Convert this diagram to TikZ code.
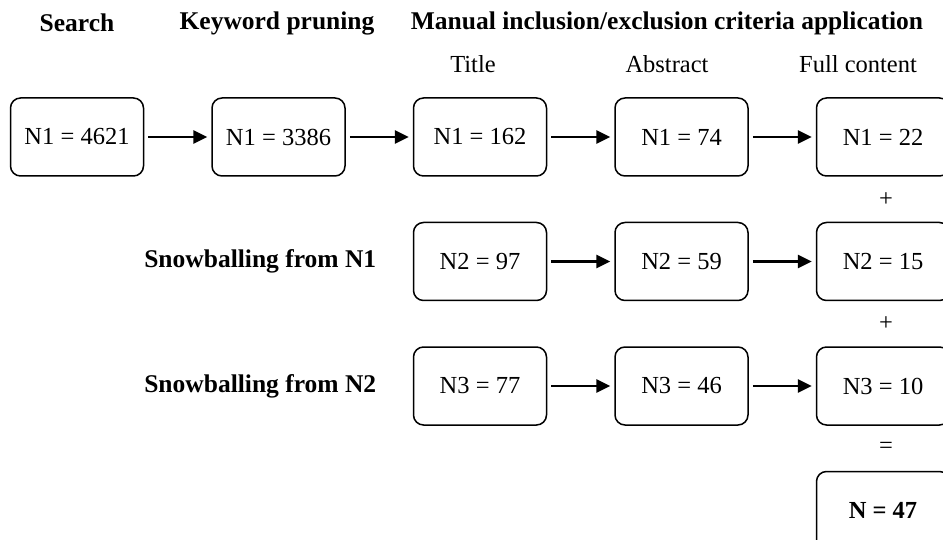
\documentclass[tikz,border=0pt]{standalone}
\usepackage{fontspec}
\setmainfont{Liberation Serif}
\usetikzlibrary{positioning, arrows.meta, calc}
\tikzset{
	node distance=45pt and 67pt, % vertical and horizontal gap between the boxes
	box/.style={draw, line width=1.5pt, rounded corners=10pt, minimum width=133pt, minimum height=78pt, font=\fontsize{24.5}{28}\selectfont}, % the count boxes
	head/.style={font=\fontsize{25.5}{30}\selectfont\bfseries}, % bold headers
	sub/.style={font=\fontsize{24.5}{29}\selectfont}, % the three sub headers
	flow/.style={-{Triangle[length=14pt,width=13pt]}, line width=2.8pt, shorten <=4pt, shorten >=4pt}, % arrows between the boxes
}
\begin{document}
\begin{tikzpicture}[x=1pt, y=-1pt]
		\useasboundingbox (0,0) rectangle (943,540);

		\node[box] (s1) at (77,137) {N1 = 4621};
		\node[box, right=of s1] (k1) {N1 = 3386};
		\node[box, right=of k1] (t1) {N1 = 162};
		\node[box, right=of t1] (a1) {N1 = 74};
		\node[box, right=of a1] (f1) {N1 = 22};

		\node[box, below=of t1] (t2) {N2 = 97};
		\node[box, below=of a1] (a2) {N2 = 59};
		\node[box, below=of f1] (f2) {N2 = 15};

		\node[box, below=of t2] (t3) {N3 = 77};
		\node[box, below=of a2] (a3) {N3 = 46};
		\node[box, below=of f2] (f3) {N3 = 10};

		\node[box, below=of f3, font=\fontsize{24.5}{28}\selectfont\bfseries] (total) {N = 47};

		% headers
		\node[head] (hsearch) at (77,23) {Search};
		\node[head] (hkey) at (277,23) {Keyword pruning};
		\node[head] (hmanual) at (667,23) {Manual inclusion/exclusion criteria application};
		\node[sub] (htitle) at (473,64) {Title};
		\node[sub] (habstract) at (667,64) {Abstract};
		\node[sub] (hfull) at (858,64) {Full content};

		\node[head, left=33pt of t2] (snow1) {Snowballing from N1};
		\node[head, left=33pt of t3] (snow2) {Snowballing from N2};

		% signs between the last column
		\node[sub] (plus1) at ($(f1.south)!0.5!(f2.north)+(3,0)$) {+};
		\node[sub] (plus2) at ($(f2.south)!0.5!(f3.north)+(3,0)$) {+};
		\node[sub] (equal) at ($(f3.south)!0.5!(total.north)+(3,0)$) {=};

		\draw[flow] (s1) edge (k1)
				(k1) edge (t1)
				(t1) edge (a1)
				(a1) edge (f1)
				(t2) edge (a2)
				(a2) edge (f2)
				(t3) edge (a3)
				(a3) edge (f3);
\end{tikzpicture}
\end{document}
